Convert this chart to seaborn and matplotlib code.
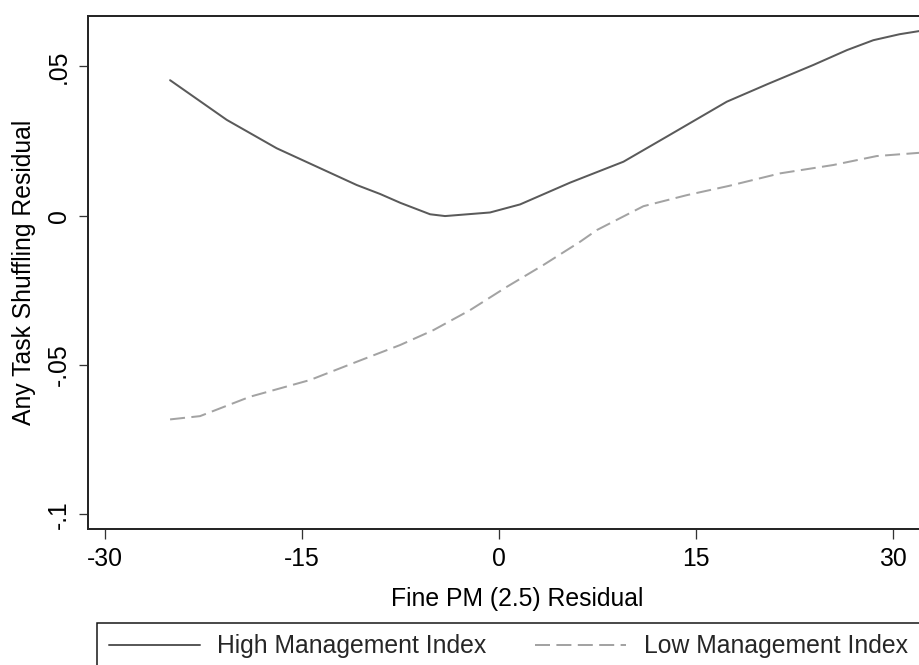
import matplotlib
matplotlib.use("Agg")
import matplotlib.pyplot as plt
from matplotlib.patches import Rectangle
import numpy as np
import pandas as pd
import seaborn as sns

# Smoothed residual curves by management group
high_x = [-25.05, -20.73, -16.93, -10.84, -9.06, -7.5, -5.25, -4.11, -0.69, 1.60, 5.41,
          9.47, 12.77, 17.34, 20.5, 23.93, 26.5, 28.5, 30.5, 32.06, 34.0]
high_y = [0.0454, 0.0321, 0.0226, 0.0103, 0.0073, 0.0043, 0.0005, -0.0001, 0.0011, 0.0038, 0.0111,
          0.0181, 0.0265, 0.0382, 0.0442, 0.0505, 0.0555, 0.0588, 0.0608, 0.0619, 0.0624]
low_x = [-25.05, -22.77, -18.96, -14.39, -10.84, -7.54, -5.0, -2.21, 0.59, 3.37, 6.17,
         7.44, 10.99, 14.29, 17.5, 21.40, 25.45, 28.76, 32.06, 34.0]
low_y = [-0.0682, -0.0671, -0.0606, -0.0550, -0.0489, -0.0433, -0.0383, -0.0316, -0.0238, -0.0165, -0.0087,
         -0.0048, 0.0032, 0.0069, 0.0100, 0.0142, 0.0170, 0.0200, 0.0211, 0.0213]

series_names = ["High Management Index", "Low Management Index"]
x_ticks = [-30, -15, 0, 15, 30]
x_tick_labels = ["-30", "-15", "0", "15", "30"]
y_ticks = [-0.1, -0.05, 0, 0.05]
y_tick_labels = ["-.1", "-.05", "0", ".05"]

df = pd.concat([
    pd.DataFrame({"x": high_x, "y": high_y, "group": series_names[0]}),
    pd.DataFrame({"x": low_x, "y": low_y, "group": series_names[1]}),
], ignore_index=True)

sns.set_theme(style="white")
plt.rcParams["font.family"] = ["Liberation Sans", "DejaVu Sans"]

FS = 17.8
px = 0.72  # points per pixel at dpi 100

fig = plt.figure(figsize=(9.2, 6.65), dpi=100)
W, H = 920, 665
x_lo, x_hi = -31.3, 34.0
y_lo, y_hi = -0.1049, 0.0669
ax_left, ax_top, ax_bottom = 88, 16, 529
ax_w = (x_hi - x_lo) * 13.133
ax = fig.add_axes([ax_left / W, 1 - ax_bottom / H, ax_w / W, (ax_bottom - ax_top) / H])

sns.lineplot(
    data=df, x="x", y="y", hue="group", style="group",
    palette={series_names[0]: "#5a5a5a", series_names[1]: "#a3a3a3"},
    dashes={series_names[0]: "", series_names[1]: (7.5, 3.2)},
    linewidth=2 * px, sort=False, estimator=None, legend=False, ax=ax,
)

ax.set_xlim(x_lo, x_hi)
ax.set_ylim(y_lo, y_hi)
ax.set_xticks(x_ticks)
ax.set_xticklabels(x_tick_labels)
ax.set_yticks(y_ticks)
ax.set_yticklabels(y_tick_labels, rotation=90, va="center")
ax.tick_params(axis="both", which="both", length=9.5 * px, width=1.3 * px,
               color="#333333", labelsize=FS, labelcolor="black")
ax.tick_params(axis="x", pad=6.0)
ax.tick_params(axis="y", pad=5.5)
ax.tick_params(axis="both", bottom=True, left=True)
for side in ["left", "bottom", "top", "right"]:
    ax.spines[side].set_visible(True)
    ax.spines[side].set_linewidth(2 * px)
    ax.spines[side].set_color("#262626")
ax.grid(False)

ax.set_xlabel("Fine PM (2.5) Residual", fontsize=FS, color="black", labelpad=11.5)
ax.set_ylabel("Any Task Shuffling Residual", fontsize=FS, color="black", labelpad=8)

# Legend below the plot region
handles = ax.get_lines()[:2]
fig.legend(
    handles, series_names, ncol=2, loc="center left",
    bbox_to_anchor=(108.6 / W, 1 - 646.5 / H), frameon=False,
    fontsize=FS, handlelength=3.7, handletextpad=0.7, columnspacing=1.95,
    borderaxespad=0, borderpad=0,
)
fig.add_artist(Rectangle((96.8 / W, -0.2), 2.0, 0.2 + 1 - 623.3 / H,
                         transform=fig.transFigure, fill=False,
                         edgecolor="#111111", linewidth=1.5 * px, clip_on=False))

fig.savefig("out.png", dpi=100)
